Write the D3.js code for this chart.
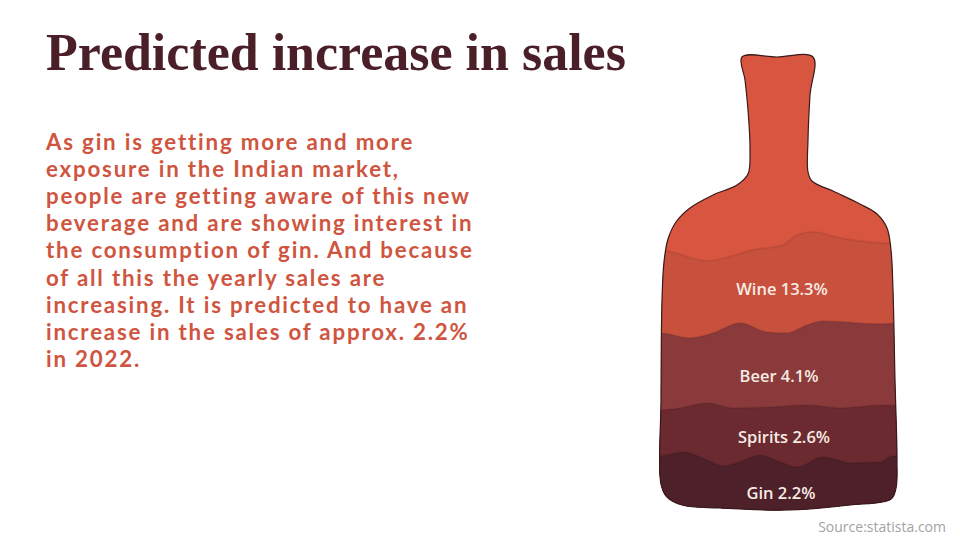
<!DOCTYPE html>
<html><head><meta charset="utf-8">
<script src="https://cdn.jsdelivr.net/npm/d3@7"></script>
<style>body{margin:0;background:#fff}svg{display:block}</style>
</head><body>
<svg id="c" width="960" height="540"></svg>
<script>
// ---------- data ----------
const titleText = "Predicted increase in sales";
const bodyLines = [
  "As gin is getting more and more",
  "exposure in the Indian market,",
  "people are getting aware of this new",
  "beverage and are showing interest in",
  "the consumption of gin. And because",
  "of all this the yearly sales are",
  "increasing. It is predicted to have an",
  "increase in the sales of approx. 2.2%",
  "in 2022."
];
const categories = ["Wine", "Beer", "Spirits", "Gin"];
const values = [13.3, 4.1, 2.6, 2.2];
const sourceText = "Source:statista.com";

// ---------- styles ----------
const topColor = "#D8553F";
const layerColors = ["#C8513E", "#8B3A3B", "#6A2A30", "#4E2029"];
const titleColor = "#4A1F27";
const bodyColor = "#CF5540";

// ---------- bottle geometry (pictorial shape, pixel space) ----------
const outline = [
  [742,57],[777,57],[813,57],
  [810,95],[808,140],[808,172],[812,181],[835,192],[860,204],[877,214],[887,228],[891,250],
  [893,290],[895,380],[897,460],[896,488],[891,499],[850,505],[790,510],[720,508],[682,505],
  [667,497],[661,484],[661,400],[662,300],[664,262],[668,239],[676,222],[690,208],[713,195],
  [737,185],[748,174],[750,150],[748,110],[745,80]
];
const waves = [
  [[650,249],[667,251],[707,261],[757,249],[780,246],[800,234],[813,232],[840,238],[880,243],[905,244]],
  [[650,333],[660,333],[690,338],[713,333],[740,323],[767,332],[787,333],[807,325],[823,321],[880,324],[905,322]],
  [[650,410],[660,410],[680,408],[707,403],[733,408],[773,407],[807,405],[840,408],[883,405],[905,406]],
  [[650,456],[660,456],[683,452],[707,460],[723,466],[750,458],[760,455],[780,462],[797,467],[823,457],[850,463],[880,462],[893,456],[905,456]]
];
const labelCenters = [[782,289],[779,376],[784,437],[781,493]];

const svg = d3.select("#c");
const x = d3.scaleIdentity().domain([0,960]);
const y = d3.scaleIdentity().domain([0,540]);

// ---------- title ----------
const title = svg.append("text")
  .attr("x", 46).attr("y", 70)
  .attr("fill", titleColor)
  .style("font-family", "'Liberation Serif','Times New Roman',serif")
  .style("font-weight", "bold")
  .style("font-size", "48px")
  .text(titleText);
const tw = title.node().getComputedTextLength();
title.style("font-size", (48 * 580 / tw) + "px");

// ---------- body ----------
const body = svg.append("g");
const lines = body.selectAll("text").data(bodyLines).join("text")
  .attr("x", 46)
  .attr("y", (d, i) => 150 + i * 27.1)
  .attr("fill", bodyColor)
  .style("font-family", "Lato, 'Open Sans', sans-serif")
  .style("font-weight", "bold")
  .style("font-size", "22.3px")
  .text(d => d);
let maxW = 0;
lines.each(function(){ maxW = Math.max(maxW, this.getComputedTextLength()); });
if (maxW < 428) {
  lines.style("letter-spacing", ((430 - maxW) / 36) + "px");
}

// ---------- bottle ----------
const outlinePath = d3.line().x(d => x(d[0])).y(d => y(d[1])).curve(d3.curveCatmullRomClosed.alpha(0.5));
svg.append("clipPath").attr("id", "bottle")
  .append("path").attr("d", outlinePath(outline));

const g = svg.append("g").attr("clip-path", "url(#bottle)");
g.append("rect").attr("x", 640).attr("y", 40).attr("width", 280).attr("height", 490).attr("fill", topColor);

const area = d3.area().x(d => x(d[0])).y0(y(530)).y1(d => y(d[1])).curve(d3.curveMonotoneX);
const waveLine = d3.line().x(d => x(d[0])).y(d => y(d[1])).curve(d3.curveMonotoneX);

categories.forEach((c, i) => {
  g.append("path").attr("d", area(waves[i])).attr("fill", layerColors[i]);
  g.append("path").attr("d", waveLine(waves[i])).attr("fill", "none")
    .attr("stroke", "#000").attr("stroke-opacity", 0.08).attr("stroke-width", 2);
});

svg.append("path").attr("d", outlinePath(outline))
  .attr("fill", "none").attr("stroke", "#3a1a1c").attr("stroke-width", 1.2);

// labels
svg.append("g").selectAll("text").data(categories).join("text")
  .attr("x", (d, i) => labelCenters[i][0])
  .attr("y", (d, i) => labelCenters[i][1])
  .attr("dy", "0.35em")
  .attr("text-anchor", "middle")
  .attr("fill", "#F7ECE4")
  .style("font-family", "'Open Sans', sans-serif")
  .style("font-weight", 600)
  .style("font-size", "16.5px")
  .text((d, i) => `${d} ${values[i]}%`);

// source
svg.append("text")
  .attr("x", 946).attr("y", 532)
  .attr("text-anchor", "end")
  .attr("fill", "#A3A3A3")
  .style("font-family", "'Open Sans', sans-serif")
  .style("font-size", "14px")
  .text(sourceText);
</script>
</body></html>
